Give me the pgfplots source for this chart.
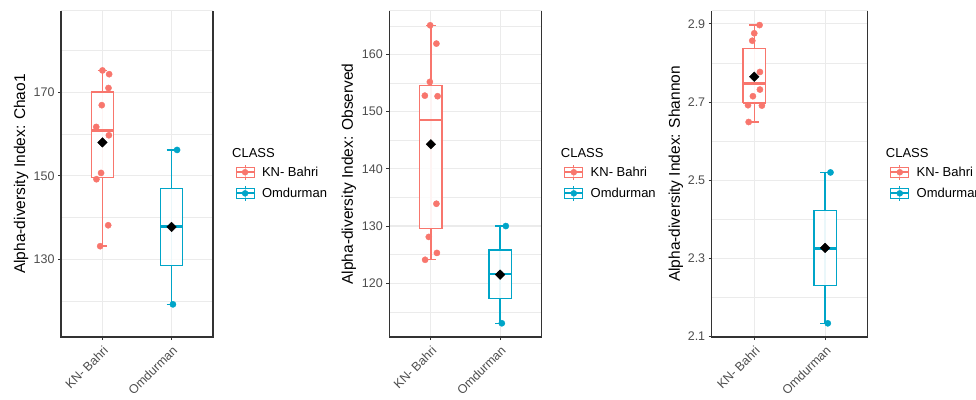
\documentclass[border=0pt]{standalone}
\usepackage{pgfplots}
\pgfplotsset{compat=1.18}
\usepackage{fontspec}
\setmainfont{Liberation Sans}
\definecolor{kn}{HTML}{F8766D}
\definecolor{om}{HTML}{00A5C8}
\definecolor{gridc}{HTML}{EBEBEB}
\definecolor{framec}{HTML}{333333}
\definecolor{tickc}{HTML}{4D4D4D}
\pgfplotsset{
  panel/.style={
    scale only axis, height=326pt,
    xmin=0.4, xmax=2.6, xtick={1,2}, xticklabels={KN- Bahri,Omdurman},
    /pgf/number format/assume math mode=true,
    every tick label/.append style={text=tickc, font=\fontsize{12.5}{14}\selectfont},
    x tick label style={rotate=45, anchor=north east},
    xmajorgrids, ymajorgrids, yminorgrids,
    major grid style={gridc, line width=1.1pt},
    minor grid style={gridc, line width=0.6pt},
    axis line style={draw=none},
    tick align=outside, xtick pos=left, ytick pos=left,
    major tick length=3pt, minor tick length=0pt,
    tick style={framec, line width=0.9pt},
    clip=false,
    legend style={at={(1,0.473)}, anchor=west, xshift=19pt, draw=none, fill=none,
      font=\fontsize{13}{15}\selectfont, row sep=5pt,
      nodes={inner sep=0pt},
      /tikz/every odd column/.append style={column sep=7pt}},
    legend cell align=left,
  },
  ylab/.style={every axis y label/.style={at={(axis description cs:#1,0.5)}, rotate=90, anchor=center, font=\fontsize{15.5}{18}\selectfont}},
  knkey/.style={legend image code/.code={
    \draw[kn!45, line width=1.1pt] (9pt,-5pt)--(9pt,5pt);
    \draw[kn, line width=1.1pt] (9pt,-7.5pt)--(9pt,-5pt) (9pt,5pt)--(9pt,7.5pt);
    \draw[kn, line width=1.1pt] (0pt,-5pt) rectangle (18pt,5pt);
    \draw[kn, line width=1.8pt] (0pt,0pt)--(18pt,0pt);
    \fill[kn] (9pt,0pt) circle (3pt);}},
  omkey/.style={legend image code/.code={
    \draw[om!45, line width=1.1pt] (9pt,-5pt)--(9pt,5pt);
    \draw[om, line width=1.1pt] (9pt,-7.5pt)--(9pt,-5pt) (9pt,5pt)--(9pt,7.5pt);
    \draw[om, line width=1.1pt] (0pt,-5pt) rectangle (18pt,5pt);
    \draw[om, line width=1.8pt] (0pt,0pt)--(18pt,0pt);
    \fill[om] (9pt,0pt) circle (3pt);}},
  wl/.style={line width=1.4pt, mark=none, forget plot},
  boxs/.style={line width=1.4pt, mark=none, forget plot, fill=white, fill opacity=0.8, draw opacity=1},
  medl/.style={line width=2.5pt, mark=none, forget plot},
  pts/.style={only marks, mark=*, mark size=3.1pt},
  avg/.style={only marks, mark=square*, mark size=3.4pt, mark options={rotate=45, fill=black, draw=black}, black, forget plot},
}
\newcommand{\drawframe}{%
  \draw[gridc, line width=1pt] (rel axis cs:0,1) -- (rel axis cs:1,1);
  \draw[framec, line width=1.1pt] (rel axis cs:0,1) -- (rel axis cs:0,0) -- (rel axis cs:1,0) -- (rel axis cs:1,1);}
\begin{document}
\begin{tikzpicture}
\useasboundingbox (0,0) rectangle (976pt,399pt);
% ---------------- Chao1
\begin{axis}[panel, at={(61pt,62pt)}, anchor=south west, width=152pt,
  ymin=111.5, ymax=189.4, ytick={130,150,170}, minor ytick={120,140,160,180},
  ylabel={Alpha-diversity Index: Chao1}, ylab=-0.263]
% KN- Bahri box
\addplot[kn!40, wl] coordinates {(1,133.2) (1,175.2)};
\addplot[kn, boxs] coordinates {(0.84,149.6) (1.16,149.6) (1.16,170.0) (0.84,170.0) (0.84,149.6)};
\addplot[kn, wl] coordinates {(1,170.0) (1,175.2)};
\addplot[kn, wl] coordinates {(1,149.6) (1,133.2)};
\addplot[kn, wl] coordinates {(0.93,175.2) (1.07,175.2)};
\addplot[kn, wl] coordinates {(0.93,133.2) (1.07,133.2)};
\addplot[kn, medl] coordinates {(0.84,160.8) (1.16,160.8)};
% Omdurman box
\addplot[om!40, wl] coordinates {(2,119.3) (2,156.2)};
\addplot[om, boxs] coordinates {(1.84,128.6) (2.16,128.6) (2.16,147.05) (1.84,147.05) (1.84,128.6)};
\addplot[om, wl] coordinates {(2,147.05) (2,156.2)};
\addplot[om, wl] coordinates {(2,128.6) (2,119.3)};
\addplot[om, wl] coordinates {(1.93,156.2) (2.07,156.2)};
\addplot[om, wl] coordinates {(1.93,119.3) (2.07,119.3)};
\addplot[om, medl] coordinates {(1.84,137.9) (2.16,137.9)};
% points
\addplot[pts, kn, knkey] coordinates {(1.00,175.2) (1.097,174.3) (1.087,171.0) (0.99,166.9) (0.91,161.7) (1.093,159.7) (0.98,150.7) (0.913,149.2) (1.083,138.2) (0.967,133.2)};
\addlegendentry{KN- Bahri}
\addplot[pts, om, omkey] coordinates {(2.08,156.2) (2.00,137.9) (2.02,119.3)};
\addlegendentry{Omdurman}
\addplot[avg] coordinates {(1,158.0) (2,137.8)};
\drawframe
\node[anchor=west, inner sep=0pt, font=\fontsize{13}{15}\selectfont] at (rel axis cs:1,0.564) [xshift=19pt] {CLASS};
\end{axis}
% ---------------- Observed
\begin{axis}[panel, at={(389.3pt,62pt)}, anchor=south west, width=152.4pt,
  ymin=110.6, ymax=167.6, ytick={120,130,140,150,160}, minor ytick={115,125,135,145,155,165},
  ylabel={Alpha-diversity Index: Observed}, ylab=-0.266]
\addplot[kn!40, wl] coordinates {(1,124.1) (1,165.1)};
\addplot[kn, boxs] coordinates {(0.84,129.55) (1.16,129.55) (1.16,154.6) (0.84,154.6) (0.84,129.55)};
\addplot[kn, wl] coordinates {(1,154.6) (1,165.1)};
\addplot[kn, wl] coordinates {(1,129.55) (1,124.1)};
\addplot[kn, wl] coordinates {(0.93,165.1) (1.07,165.1)};
\addplot[kn, wl] coordinates {(0.93,124.1) (1.07,124.1)};
\addplot[kn, medl] coordinates {(0.84,148.5) (1.16,148.5)};
\addplot[om!40, wl] coordinates {(2,113.0) (2,130.0)};
\addplot[om, boxs] coordinates {(1.84,117.3) (2.16,117.3) (2.16,125.8) (1.84,125.8) (1.84,117.3)};
\addplot[om, wl] coordinates {(2,125.8) (2,130.0)};
\addplot[om, wl] coordinates {(2,117.3) (2,113.0)};
\addplot[om, wl] coordinates {(1.93,130.0) (2.07,130.0)};
\addplot[om, wl] coordinates {(1.93,113.0) (2.07,113.0)};
\addplot[om, medl] coordinates {(1.84,121.6) (2.16,121.6)};
\addplot[pts, kn, knkey] coordinates {(0.99,165.1) (1.08,161.9) (0.985,155.2) (0.913,152.8) (1.097,152.7) (1.0,144.3) (1.08,133.9) (0.97,128.1) (1.087,125.3) (0.917,124.1)};
\addlegendentry{KN- Bahri}
\addplot[pts, om, omkey] coordinates {(2.082,130.0) (2.0,121.6) (2.024,113.0)};
\addlegendentry{Omdurman}
\addplot[avg] coordinates {(1,144.3) (2,121.5)};
\drawframe
\node[anchor=west, inner sep=0pt, font=\fontsize{13}{15}\selectfont] at (rel axis cs:1,0.564) [xshift=19pt] {CLASS};
\end{axis}
% ---------------- Shannon
\begin{axis}[panel, at={(711.7pt,62pt)}, anchor=south west, width=156pt,
  ymin=2.099, ymax=2.933, ytick={2.1,2.3,2.5,2.7,2.9}, minor ytick={2.2,2.4,2.6,2.8},
  yticklabel style={/pgf/number format/fixed, /pgf/number format/precision=1, /pgf/number format/fixed zerofill},
  ylabel={Alpha-diversity Index: Shannon}, ylab=-0.229]
\addplot[kn!40, wl] coordinates {(1,2.649) (1,2.897)};
\addplot[kn, boxs] coordinates {(0.84,2.698) (1.16,2.698) (1.16,2.837) (0.84,2.837) (0.84,2.698)};
\addplot[kn, wl] coordinates {(1,2.837) (1,2.897)};
\addplot[kn, wl] coordinates {(1,2.698) (1,2.649)};
\addplot[kn, wl] coordinates {(0.93,2.897) (1.07,2.897)};
\addplot[kn, wl] coordinates {(0.93,2.649) (1.07,2.649)};
\addplot[kn, medl] coordinates {(0.84,2.748) (1.16,2.748)};
\addplot[om!40, wl] coordinates {(2,2.134) (2,2.520)};
\addplot[om, boxs] coordinates {(1.84,2.230) (2.16,2.230) (2.16,2.423) (1.84,2.423) (1.84,2.230)};
\addplot[om, wl] coordinates {(2,2.423) (2,2.520)};
\addplot[om, wl] coordinates {(2,2.230) (2,2.134)};
\addplot[om, wl] coordinates {(1.93,2.520) (2.07,2.520)};
\addplot[om, wl] coordinates {(1.93,2.134) (2.07,2.134)};
\addplot[om, medl] coordinates {(1.84,2.326) (2.16,2.326)};
\addplot[pts, kn, knkey] coordinates {(1.075,2.897) (1.0,2.876) (0.972,2.857) (1.08,2.777) (1.0,2.764) (1.08,2.732) (0.981,2.715) (0.912,2.692) (1.108,2.691) (0.921,2.649)};
\addlegendentry{KN- Bahri}
\addplot[pts, om, omkey] coordinates {(2.075,2.520) (2.0,2.326) (2.037,2.134)};
\addlegendentry{Omdurman}
\addplot[avg] coordinates {(1,2.765) (2,2.327)};
\drawframe
\node[anchor=west, inner sep=0pt, font=\fontsize{13}{15}\selectfont] at (rel axis cs:1,0.564) [xshift=18pt] {CLASS};
\end{axis}
\end{tikzpicture}
\end{document}
